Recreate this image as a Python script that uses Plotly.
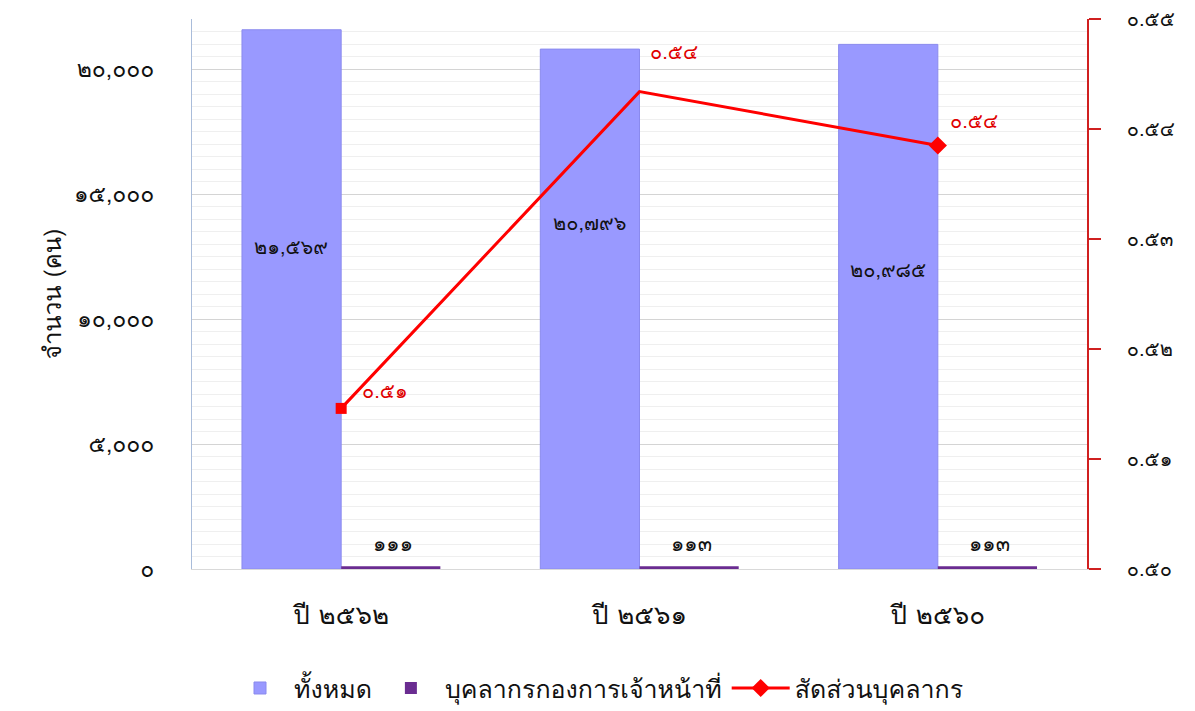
import plotly.graph_objects as go

# Staff figures by fiscal year (Buddhist calendar)
years = ["ปี ๒๕๖๒", "ปี ๒๕๖๑", "ปี ๒๕๖๐"]
total_staff = [21569, 20796, 20985]
division_staff = [111, 113, 113]
staff_ratio = [0.5146, 0.5434, 0.5385]

left_ticks = [0, 5000, 10000, 15000, 20000]
right_ticks = [0.50, 0.51, 0.52, 0.53, 0.54, 0.55]

THAI_DIGITS = str.maketrans("0123456789", "๐๑๒๓๔๕๖๗๘๙")


def thai(s):
    return str(s).translate(THAI_DIGITS)


FONT = "Loma, Garuda, Tahoma, sans-serif"
RED = "#FF0000"

fig = go.Figure()

fig.add_trace(go.Bar(
    x=years, y=total_staff, name="ทั้งหมด",
    marker=dict(color="#9999FF", line=dict(color="#8A8AEE", width=1)),
))
fig.add_trace(go.Bar(
    x=years, y=division_staff, name="บุคลากรกองการเจ้าหน้าที่",
    marker=dict(color="#6A2C91", line=dict(width=0)),
))
# ratio line across all years
fig.add_trace(go.Scatter(
    x=years, y=staff_ratio, yaxis="y2", mode="lines", showlegend=False,
    legendgroup="ratio", line=dict(color=RED, width=3), hoverinfo="skip",
))
# square marker on the latest year
fig.add_trace(go.Scatter(
    x=years[:1], y=staff_ratio[:1], yaxis="y2", mode="markers", showlegend=False,
    legendgroup="ratio",
    marker=dict(color=RED, symbol="square", size=11, line=dict(width=0)),
))
# diamond marker on the earliest year (carries the legend entry)
fig.add_trace(go.Scatter(
    x=years[2:], y=staff_ratio[2:], yaxis="y2", mode="lines+markers",
    name="สัดส่วนบุคลากร", legendgroup="ratio",
    line=dict(color=RED, width=3),
    marker=dict(color=RED, symbol="diamond", size=14, line=dict(width=0)),
))

annotations = []
# value labels inside the large bars
for yr, v, ypos in zip(years, total_staff, [12900, 13850, 11950]):
    annotations.append(dict(
        x=yr, y=ypos, xref="x", yref="y", text=thai(f"{v:,}"),
        showarrow=False, xshift=-50, font=dict(size=20, color="#111111", family=FONT),
    ))
# value labels above the small bars
for yr, v in zip(years, division_staff):
    annotations.append(dict(
        x=yr, y=v, xref="x", yref="y", text=thai(v),
        showarrow=False, xshift=52, yshift=23,
        font=dict(size=21, color="#111111", family=FONT),
    ))
# ratio labels
for yr, v, (dx, dy) in zip(years, staff_ratio, [(44, 17), (34, 40), (36, 25)]):
    annotations.append(dict(
        x=yr, y=v, xref="x", yref="y2", text=thai(f"{v:.2f}"),
        showarrow=False, xshift=dx, yshift=dy,
        font=dict(size=20, color="#E00000", family=FONT),
    ))

fig.update_layout(
    width=1195, height=711,
    margin=dict(l=192, r=108, t=19, b=142, autoexpand=False),
    paper_bgcolor="white", plot_bgcolor="white",
    barmode="group", bargap=0.335, bargroupgap=0,
    font=dict(family=FONT, size=22, color="#111111"),
    showlegend=True,
    legend=dict(orientation="h", xref="container", yref="container",
                x=0.5, xanchor="center", y=0.032, yanchor="middle",
                font=dict(size=25, family=FONT), itemwidth=58, tracegroupgap=0),
    annotations=annotations,
    xaxis=dict(
        showline=True, linecolor="#D9D9D9", linewidth=1,
        ticks="", tickfont=dict(size=26), ticklabelstandoff=23,
    ),
    yaxis=dict(
        range=[0, 22000], tickvals=left_ticks,
        ticktext=[thai(f"{t:,}") for t in left_ticks],
        showline=True, linecolor="#A9BCDA", linewidth=1,
        showgrid=True, gridcolor="#D4D4D4", gridwidth=1,
        minor=dict(dtick=500, showgrid=True, gridcolor="#EFEFEF", gridwidth=1),
        zeroline=False, ticks="", ticklabelstandoff=32,
        tickfont=dict(size=23),
        title=dict(text="จำนวน (คน)", font=dict(size=24), standoff=5),
    ),
    yaxis2=dict(
        range=[0.50, 0.55], tickvals=right_ticks,
        ticktext=[thai(f"{t:.2f}") for t in right_ticks],
        overlaying="y", side="right", automargin=False,
        showline=True, linecolor="#D02020", linewidth=1.5,
        ticks="outside", ticklen=12, tickcolor="#D02020", tickwidth=1.5,
        showgrid=False, zeroline=False, ticklabelstandoff=22,
        ticklabeloverflow="allow",
        tickfont=dict(size=20),
    ),
)

fig.write_html("out.html")
